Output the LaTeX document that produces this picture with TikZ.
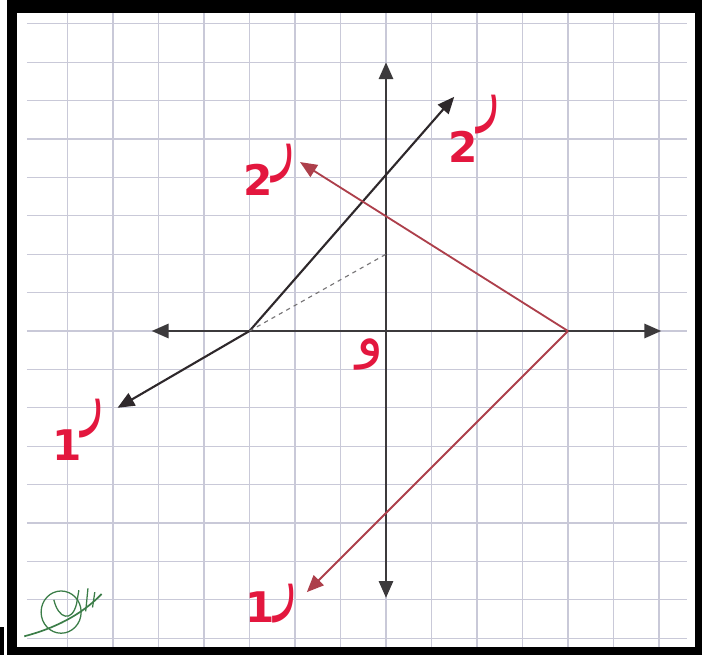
\documentclass[tikz,border=0pt]{standalone}
\usepackage{fontspec}
\usetikzlibrary{arrows.meta}
\TeXXeTstate=1
\newfontfamily\arabicfont[Script=Arabic]{DejaVu Sans}
\newfontfamily\digitfont{DejaVu Sans}
\definecolor{gridc}{HTML}{C9C9D8}
\definecolor{axisc}{HTML}{3C3A3C}
\definecolor{vecc}{HTML}{2E282B}
\definecolor{redvec}{HTML}{AD3F4B}
\definecolor{labc}{HTML}{E3173E}
\definecolor{sigc}{HTML}{3B7D48}
\newcommand{\vecname}[2]{{\digitfont\bfseries #1}\raisebox{#2}{\scalebox{0.6}[1]{\fontsize{54}{54}\selectfont\arabicfont\beginR ر\endR}}}
\tikzset{
  gridline/.style={gridc, line width=0.8pt},
  axisline/.style={axisc, line width=1.9pt},
  vecline/.style={vecc, line width=1.5pt},
  redline/.style={redvec, line width=1.3pt},
  veclabel/.style={labc, font=\fontsize{30}{30}\selectfont, inner sep=0pt, anchor=base west},
}
\begin{document}
\begin{tikzpicture}[x=1.1375cm, y=0.96cm, >={Triangle[length=12pt, width=10pt]}]
        % ==== FRAME ====
        \fill[white] (-8.4835,-8.4375) rectangle (6.945,8.620);
        \fill[black] (-8.33,-8.4375) rectangle (6.945,8.620);
        \fill[black] (-8.4835,-8.4375) rectangle (-8.40,-7.72);
        \fill[white] (-8.11,-8.229) rectangle (6.791,8.281);
        \useasboundingbox (-8.4835,-8.4375) rectangle (6.945,8.620);

        % ==== GRID ====
        \foreach \i in {-7,...,6}
            \draw[gridline] (\i,-8.229) -- (\i,8.281);
        \foreach \j in {-8,...,8}
            \draw[gridline] (-7.89,\j) -- (6.615,\j);

        % ==== AXES ====
        \draw[axisline, <->] (-5.15,0) -- (6.05,0);
        \draw[axisline, <->] (0,-6.95) -- (0,7.0);
        \node[labc, font=\fontsize{40}{40}\selectfont\arabicfont, inner sep=0pt] (o) at (-0.36,-0.6) {\beginR و\endR};

        % ==== BLACK VECTORS ====
        \coordinate (P) at (-3,0);
        \coordinate (B1) at (-5.9,-2);
        \coordinate (B2) at (1.5,6.1);
        \coordinate (D) at (0,2);
        \draw[vecline, ->] (P) -- (B1);
        \draw[vecline, ->] (P) -- (B2);
        \draw[axisc!70, line width=0.8pt, dashed] (P) -- (D);

        % ==== RED VECTORS ====
        \coordinate (Q) at (4,0);
        \coordinate (R1) at (-1.74,-6.8);
        \coordinate (R2) at (-1.89,4.4);
        \draw[redline, ->] (Q) -- (R2);
        \draw[redline, ->] (Q) -- (R1);

        % ==== LABELS ====
        \node[veclabel] (lb2) at (1.36,4.40) {\vecname{2}{33pt}};
        \node[veclabel] (lb1) at (-7.34,-3.36) {\vecname{1}{29pt}};
        \node[veclabel] (lr2) at (-3.14,3.54) {\vecname{2}{22pt}};
        \node[veclabel] (lr1) at (-3.1,-7.6) {\vecname{1}{13pt}};

        % ==== SIGNATURE ====
        \draw[sigc, line width=0.9pt] (-7.14,-7.32) ellipse (0.44 and 0.55);
        \draw[sigc, line width=1.2pt] (-7.95,-7.95) .. controls (-7.3,-7.75) and (-6.7,-7.4) .. (-6.25,-6.85);
        \draw[sigc, line width=0.9pt] (-7.3,-7.0) .. controls (-7.2,-7.5) and (-6.9,-7.6) .. (-6.8,-7.1)
            -- (-6.75,-6.75) (-6.6,-7.3) -- (-6.55,-6.7) (-6.45,-7.2) -- (-6.4,-6.8);
\end{tikzpicture}
\end{document}
